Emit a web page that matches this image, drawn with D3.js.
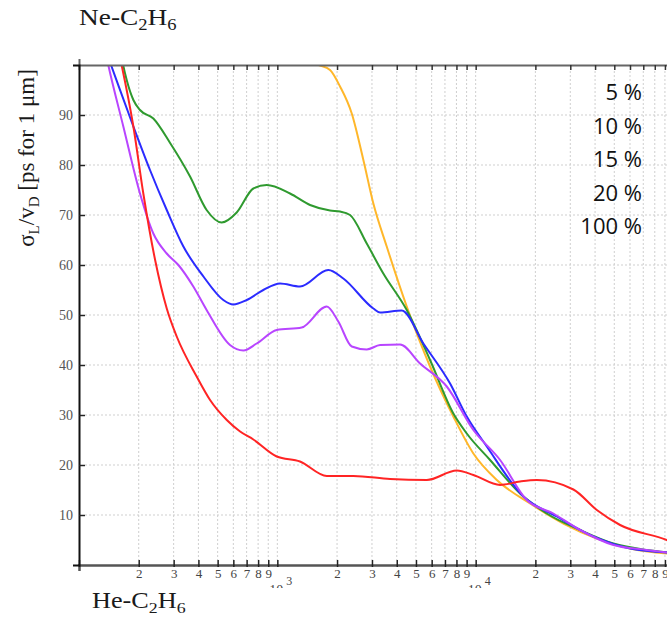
<!DOCTYPE html>
<html>
<head>
<meta charset="utf-8">
<script src="https://cdn.jsdelivr.net/npm/d3@7"></script>
<style>
  html, body { margin: 0; padding: 0; background: #fff; }
  svg { display: block; }
</style>
</head>
<body>
<svg id="chart" width="667" height="623"></svg>
<script>
// Time resolution sigma_L / v_D versus field, five gas mixtures
const legendLabels = ["5 %", "10 %", "15 %", "20 %", "100 %"];
const yTickValues = [10, 20, 30, 40, 50, 60, 70, 80, 90];
const decadeStarts = [100, 1000, 10000];

const greenX = [163.5, 167, 174, 188, 203, 237, 288, 363, 440, 524, 624, 757, 884, 1159, 1462, 1844, 2071, 2326, 2824, 3423, 4493, 5888, 7718, 9018, 11820, 16740, 22830, 33620, 49480, 72930, 100000];
const greenY = [102, 100, 97, 93, 91, 89.3, 84.4, 77.7, 71, 68.5, 70.5, 75.3, 76, 74.3, 72, 70.9, 70.7, 70, 64.3, 58.3, 51, 41, 30.3, 26.3, 21, 14.3, 10.3, 7, 4.3, 3, 2.4];

const blueX = [139, 145, 188, 228, 277, 336, 424, 534, 600, 701, 850, 1032, 1301, 1808, 2151, 3049, 3296, 4240, 5449, 7429, 9018, 11380, 17400, 25650, 39230, 60050, 100000];
const blueY = [102, 100, 87.7, 79, 71, 63.7, 57.7, 53, 52.1, 53, 55, 56.3, 55.7, 59, 57.3, 51.3, 50.5, 50.9, 44.3, 36.3, 29.7, 23.7, 13.7, 9.7, 5.7, 3.3, 2.4];

const purpleX = [137, 140.5, 167.3, 203, 237, 277, 317, 377, 440, 577, 674, 787, 993, 1327, 1775, 2030, 2373, 2824, 3296, 4157, 5244, 7149, 9737, 13280, 18100, 24650, 33620, 49480, 72930, 100000];
const purpleY = [102, 100, 87.7, 74.3, 66.3, 62.3, 60, 55.7, 51, 44, 42.9, 44.3, 47, 47.5, 51.7, 48.7, 43.7, 43.1, 44, 44.1, 40.3, 35.7, 27, 21, 13, 10.3, 7, 4, 3, 2.3];

const redX = [160, 164, 188, 211, 242, 277, 311, 392, 458, 556, 649, 757, 993, 1301, 1775, 2417, 3701, 5668, 8030, 9737, 13280, 16740, 20330, 31100, 40810, 53480, 91990, 100000];
const redY = [102, 100, 87.7, 74.3, 61, 51.3, 45.7, 37.7, 33, 29, 26.7, 25.1, 21.7, 20.7, 17.8, 17.8, 17.2, 17, 18.9, 18, 16, 16.7, 17, 15.1, 11, 8, 5, 4.4];

const orangeX = [1480, 1580, 1844, 2071, 2373, 2715, 3049, 3561, 4493, 5888, 7718, 9737, 12780, 18810, 27690, 40810, 60050, 100000];
const orangeY = [101, 100.2, 99, 95.7, 90.3, 81, 72.3, 63.7, 51.7, 39.7, 29.7, 22.3, 17, 12.3, 8.3, 5.3, 3.3, 2.2];

const series = [
  { name: "orange", color: "#ffb72a", xs: orangeX, ys: orangeY },
  { name: "green",  color: "#2f9a2f", xs: greenX,  ys: greenY },
  { name: "blue",   color: "#2b2bff", xs: blueX,   ys: blueY },
  { name: "purple", color: "#b845ff", xs: purpleX, ys: purpleY },
  { name: "red",    color: "#ff2424", xs: redX,    ys: redY }
];

const svg = d3.select("#chart");
const L = 79, R = 674, T = 65, B = 565;

const x = d3.scaleLog().domain([100, 100000]).range([L, R]);
const y = d3.scaleLinear().domain([0, 100]).range([B, T]);

// tick positions 1..9 in every decade, plus the closing decade
const xTicks = [];
decadeStarts.forEach(d => { for (let k = 1; k <= 9; k++) xTicks.push(k * d); });
xTicks.push(100000);

const defs = svg.append("defs");
defs.append("clipPath").attr("id", "panel").append("rect")
  .attr("x", 0).attr("y", 0).attr("width", 667).attr("height", 588);
defs.append("clipPath").attr("id", "plot").append("rect")
  .attr("x", L).attr("y", T).attr("width", R - L).attr("height", B - T);

const panel = svg.append("g").attr("clip-path", "url(#panel)");

// dotted grid
const grid = panel.append("g");
grid.selectAll("line.gx").data(xTicks.filter(v => v > 100 && v < 100000)).join("line")
  .attr("x1", d => x(d)).attr("x2", d => x(d))
  .attr("y1", T + 6).attr("y2", B - 5)
  .attr("stroke", "#cfcfcf").attr("stroke-width", 1).attr("stroke-dasharray", "2,2");
grid.selectAll("line.gy").data(yTickValues).join("line")
  .attr("x1", L + 6).attr("x2", R)
  .attr("y1", d => y(d)).attr("y2", d => y(d))
  .attr("stroke", "#cfcfcf").attr("stroke-width", 1).attr("stroke-dasharray", "2,2");

// curves
const line = d3.line()
  .x(d => x(d[0])).y(d => y(d[1]))
  .curve(d3.curveMonotoneX);
const plot = panel.append("g").attr("clip-path", "url(#plot)");
series.forEach(s => {
  plot.append("path")
    .datum(s.xs.map((v, i) => [v, s.ys[i]]))
    .attr("fill", "none")
    .attr("stroke", s.color)
    .attr("stroke-width", 2)
    .attr("stroke-linejoin", "round")
    .attr("d", line);
});

// bottom axis
const xAxis = d3.axisBottom(x).tickValues(xTicks)
  .tickFormat(v => {
    const k = Math.round(v / Math.pow(10, Math.floor(Math.log10(v) + 1e-9)));
    return k === 1 ? "" : String(k);
  });
const gx = panel.append("g").attr("transform", `translate(0,${B})`).call(xAxis);
gx.select(".domain").attr("stroke", "#555").attr("stroke-width", 2.5);
gx.selectAll(".tick line").attr("y1", -5).attr("y2", 2).attr("stroke", "#222").attr("stroke-width", 1.5);
gx.selectAll(".tick text")
  .attr("y", 13).attr("dy", null)
  .attr("fill", "#444")
  .style("font-family", "'Liberation Serif', serif").style("font-size", "13px");

// decade labels below the digits (lower part hidden under the panel edge)
[1000, 10000].forEach(v => {
  const t = panel.append("text")
    .attr("x", x(v) - 8).attr("y", 595)
    .attr("fill", "#444")
    .style("font-family", "'Liberation Serif', serif").style("font-size", "14px");
  t.append("tspan").text("10");
  t.append("tspan").attr("dx", 3).attr("dy", -10).style("font-size", "12px").text(String(Math.round(Math.log10(v))));
});

// top frame with inward ticks
const gTop = panel.append("g").attr("transform", `translate(0,${T})`)
  .call(d3.axisTop(x).tickValues(xTicks).tickFormat(""));
gTop.select(".domain").attr("stroke", "#666").attr("stroke-width", 2);
gTop.selectAll(".tick line").attr("y1", 0).attr("y2", 5).attr("stroke", "#333").attr("stroke-width", 1.5);

// left axis
const yAxis = d3.axisLeft(y).tickValues(yTickValues).tickFormat(d3.format("d"));
const gy = panel.append("g").attr("transform", `translate(${L},0)`).call(yAxis);
gy.select(".domain").attr("stroke", "#111").attr("stroke-width", 2);
gy.selectAll(".tick line").attr("x1", 0).attr("x2", 6).attr("stroke", "#222").attr("stroke-width", 1.5);
gy.selectAll(".tick text")
  .attr("x", -6).attr("dy", "0.32em")
  .attr("fill", "#555")
  .style("font-family", "'Liberation Serif', serif").style("font-size", "14px");

// legend labels
const legend = panel.append("g");
legendLabels.forEach((lab, i) => {
  legend.append("text")
    .attr("x", 642).attr("y", 100 + i * 33.5)
    .attr("text-anchor", "end")
    .attr("fill", "#111")
    .style("font-family", "'Open Sans', sans-serif").style("font-size", "22px")
    .text(lab);
});

// gas mixture labels
const serif = "'Liberation Serif', 'Times New Roman', serif";
function gasLabel(g, px, py, first, size) {
  const t = g.append("text")
    .attr("transform", `translate(${px},${py}) scale(1.14,1)`)
    .attr("fill", "#1a1a1a").style("font-family", serif).style("font-size", size + "px");
  t.append("tspan").text(first + "-C");
  t.append("tspan").attr("dy", 5).style("font-size", (size * 0.68) + "px").text("2");
  t.append("tspan").attr("dy", -5).text("H");
  t.append("tspan").attr("dy", 5).style("font-size", (size * 0.68) + "px").text("6");
  return t;
}
gasLabel(svg, 79, 25, "Ne", 24);
gasLabel(svg, 92, 608, "He", 23);

// y axis title
const yt = svg.append("text")
  .attr("transform", "translate(34,158) rotate(-90)")
  .attr("text-anchor", "middle")
  .attr("fill", "#1a1a1a")
  .style("font-family", serif).style("font-size", "23px");
yt.append("tspan").text("σ");
yt.append("tspan").attr("dy", 5).style("font-size", "15px").text("L");
yt.append("tspan").attr("dy", -5).text("/v");
yt.append("tspan").attr("dy", 5).style("font-size", "15px").text("D");
yt.append("tspan").attr("dy", -5).text(" [ps for 1 μm]");
</script>
</body>
</html>
